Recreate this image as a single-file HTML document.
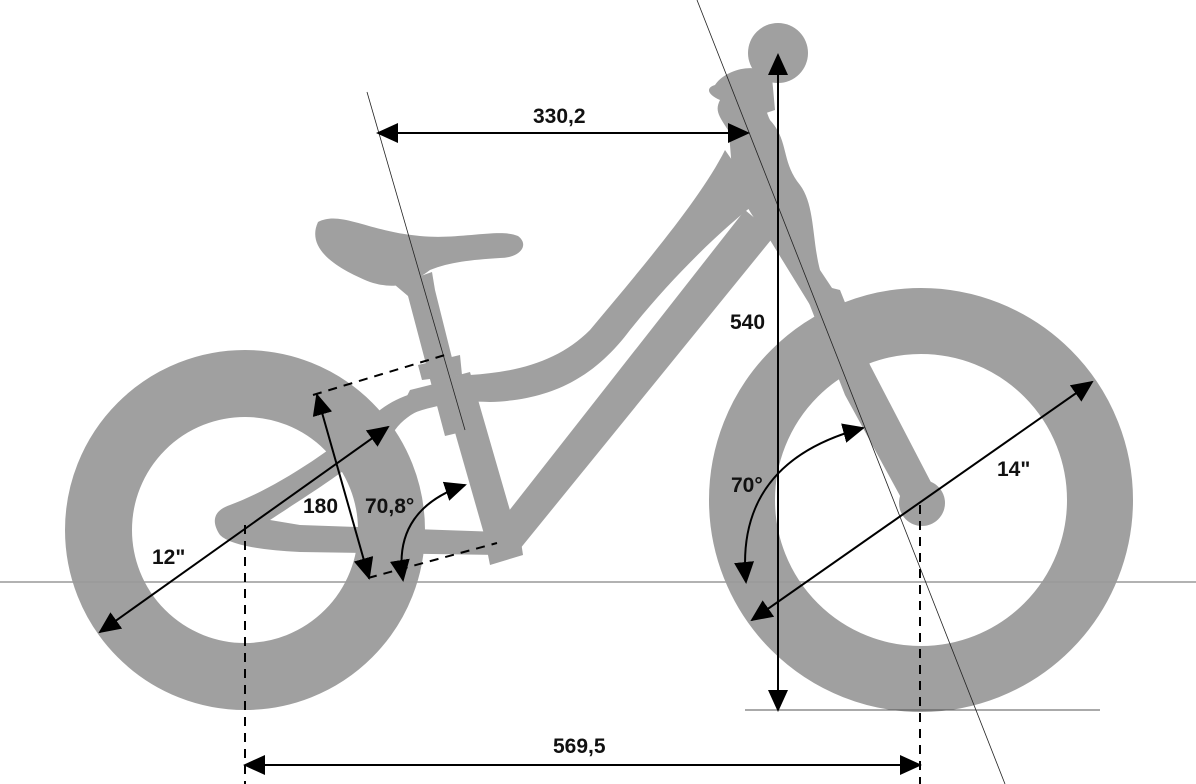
<!DOCTYPE html>
<html><head><meta charset="utf-8"><style>
html,body{margin:0;padding:0;background:#fff;}
svg{display:block;}
text{font-family:"Liberation Sans",sans-serif;font-weight:bold;font-size:21px;fill:#111;}
</style></head><body>
<svg width="1196" height="784" viewBox="0 0 1196 784" xmlns="http://www.w3.org/2000/svg">
<defs>
<marker id="b" markerWidth="22" markerHeight="20" refX="20" refY="10" orient="auto-start-reverse" markerUnits="userSpaceOnUse" viewBox="0 0 22 20">
<path d="M0,0 L22,10 L0,20 z" fill="#000"/></marker>
</defs>
<g fill="#a0a0a0" stroke="none">
<circle cx="245" cy="530" r="146.5" fill="none" stroke="#a0a0a0" stroke-width="67"/>
<circle cx="921" cy="500" r="179" fill="none" stroke="#a0a0a0" stroke-width="66"/>
<path d="M318,222 C340,210 370,232 420,236 C460,240 500,228 518,236 C530,245 520,258 500,258 C470,260 450,262 430,270 C410,285 395,290 370,282 C340,270 305,250 318,222 Z"/>
<path d="M395,285 L432,272 L435,290 L470,430 L445,436 L408,296 Z"/>
<path d="M440,380 L470,372 L520,545 L490,555 Z"/>
<path d="M485,540 L520,535 L523,555 L490,565 Z"/>
<path d="M418,365 L460,355 L462,375 L422,380 Z"/>
<path d="M725,150 C700,200 640,270 590,330 C560,360 520,372 470,375 L410,390 L395,420 C430,405 460,400 490,402 C560,400 600,370 630,330 C670,280 720,230 760,200 Z"/>
<path d="M745,210 L775,235 L515,555 L490,535 Z"/>
<path d="M728,120 L768,118 C790,140 780,160 800,185 C815,205 812,240 820,270 L840,300 L810,305 L770,240 C755,220 740,200 732,170 Z"/>
<path d="M800,280 L840,290 L870,365 L935,490 L905,505 L845,395 Z"/>
<circle cx="922" cy="503" r="23"/>
<circle cx="778" cy="53" r="30"/>
<path d="M715,85 C725,70 750,65 760,70 L770,90 C762,95 765,110 770,120 L728,130 C718,115 715,110 720,100 C708,95 705,88 715,85 Z"/>
<path d="M755,60 L770,55 L775,110 L760,115 Z"/>
<path d="M230,505 C270,490 320,460 380,410 C400,395 420,390 460,382 L462,400 C430,405 410,410 395,430 C350,470 300,500 270,520 L300,525 L500,532 L500,555 L300,552 C260,550 230,545 220,535 C210,520 215,510 230,505 Z"/>
</g>
<line x1="0" y1="582" x2="1196" y2="582" stroke="#999" stroke-width="1.5"/>
<line x1="745" y1="710" x2="1100" y2="710" stroke="#555" stroke-width="1"/>
<line x1="697" y1="0" x2="1005" y2="784" stroke="#222" stroke-width="0.8"/>
<line x1="367" y1="92" x2="465" y2="430" stroke="#222" stroke-width="0.8"/>
<g stroke="#000" stroke-width="2" fill="none">
<line x1="245" y1="525" x2="245" y2="784" stroke-dasharray="9,7"/>
<line x1="920" y1="505" x2="920" y2="784" stroke-dasharray="9,7"/>
<line x1="313" y1="395" x2="445" y2="355" stroke-dasharray="9,7"/>
<line x1="368" y1="578" x2="497" y2="543" stroke-dasharray="9,7"/>
<line x1="378" y1="133" x2="748" y2="133" marker-start="url(#b)" marker-end="url(#b)"/>
<line x1="778" y1="710" x2="778" y2="55" marker-start="url(#b)" marker-end="url(#b)"/>
<line x1="245" y1="765" x2="920" y2="765" marker-start="url(#b)" marker-end="url(#b)"/>
<line x1="100" y1="632" x2="388" y2="427" marker-start="url(#b)" marker-end="url(#b)"/>
<line x1="752" y1="620" x2="1092" y2="382" marker-start="url(#b)" marker-end="url(#b)"/>
<line x1="317" y1="395" x2="369" y2="578" marker-start="url(#b)" marker-end="url(#b)"/>
<path d="M403,580 C395,530 420,500 465,485" marker-start="url(#b)" marker-end="url(#b)"/>
<path d="M746,582 C738,500 780,450 863,428" marker-start="url(#b)" marker-end="url(#b)"/>
</g>
<text x="533" y="123">330,2</text>
<text x="730" y="329">540</text>
<text x="553" y="753">569,5</text>
<text x="152" y="564">12"</text>
<text x="997" y="476">14"</text>
<text x="303" y="513">180</text>
<text x="365" y="513">70,8°</text>
<text x="731" y="492">70°</text>
</svg>
</body></html>
